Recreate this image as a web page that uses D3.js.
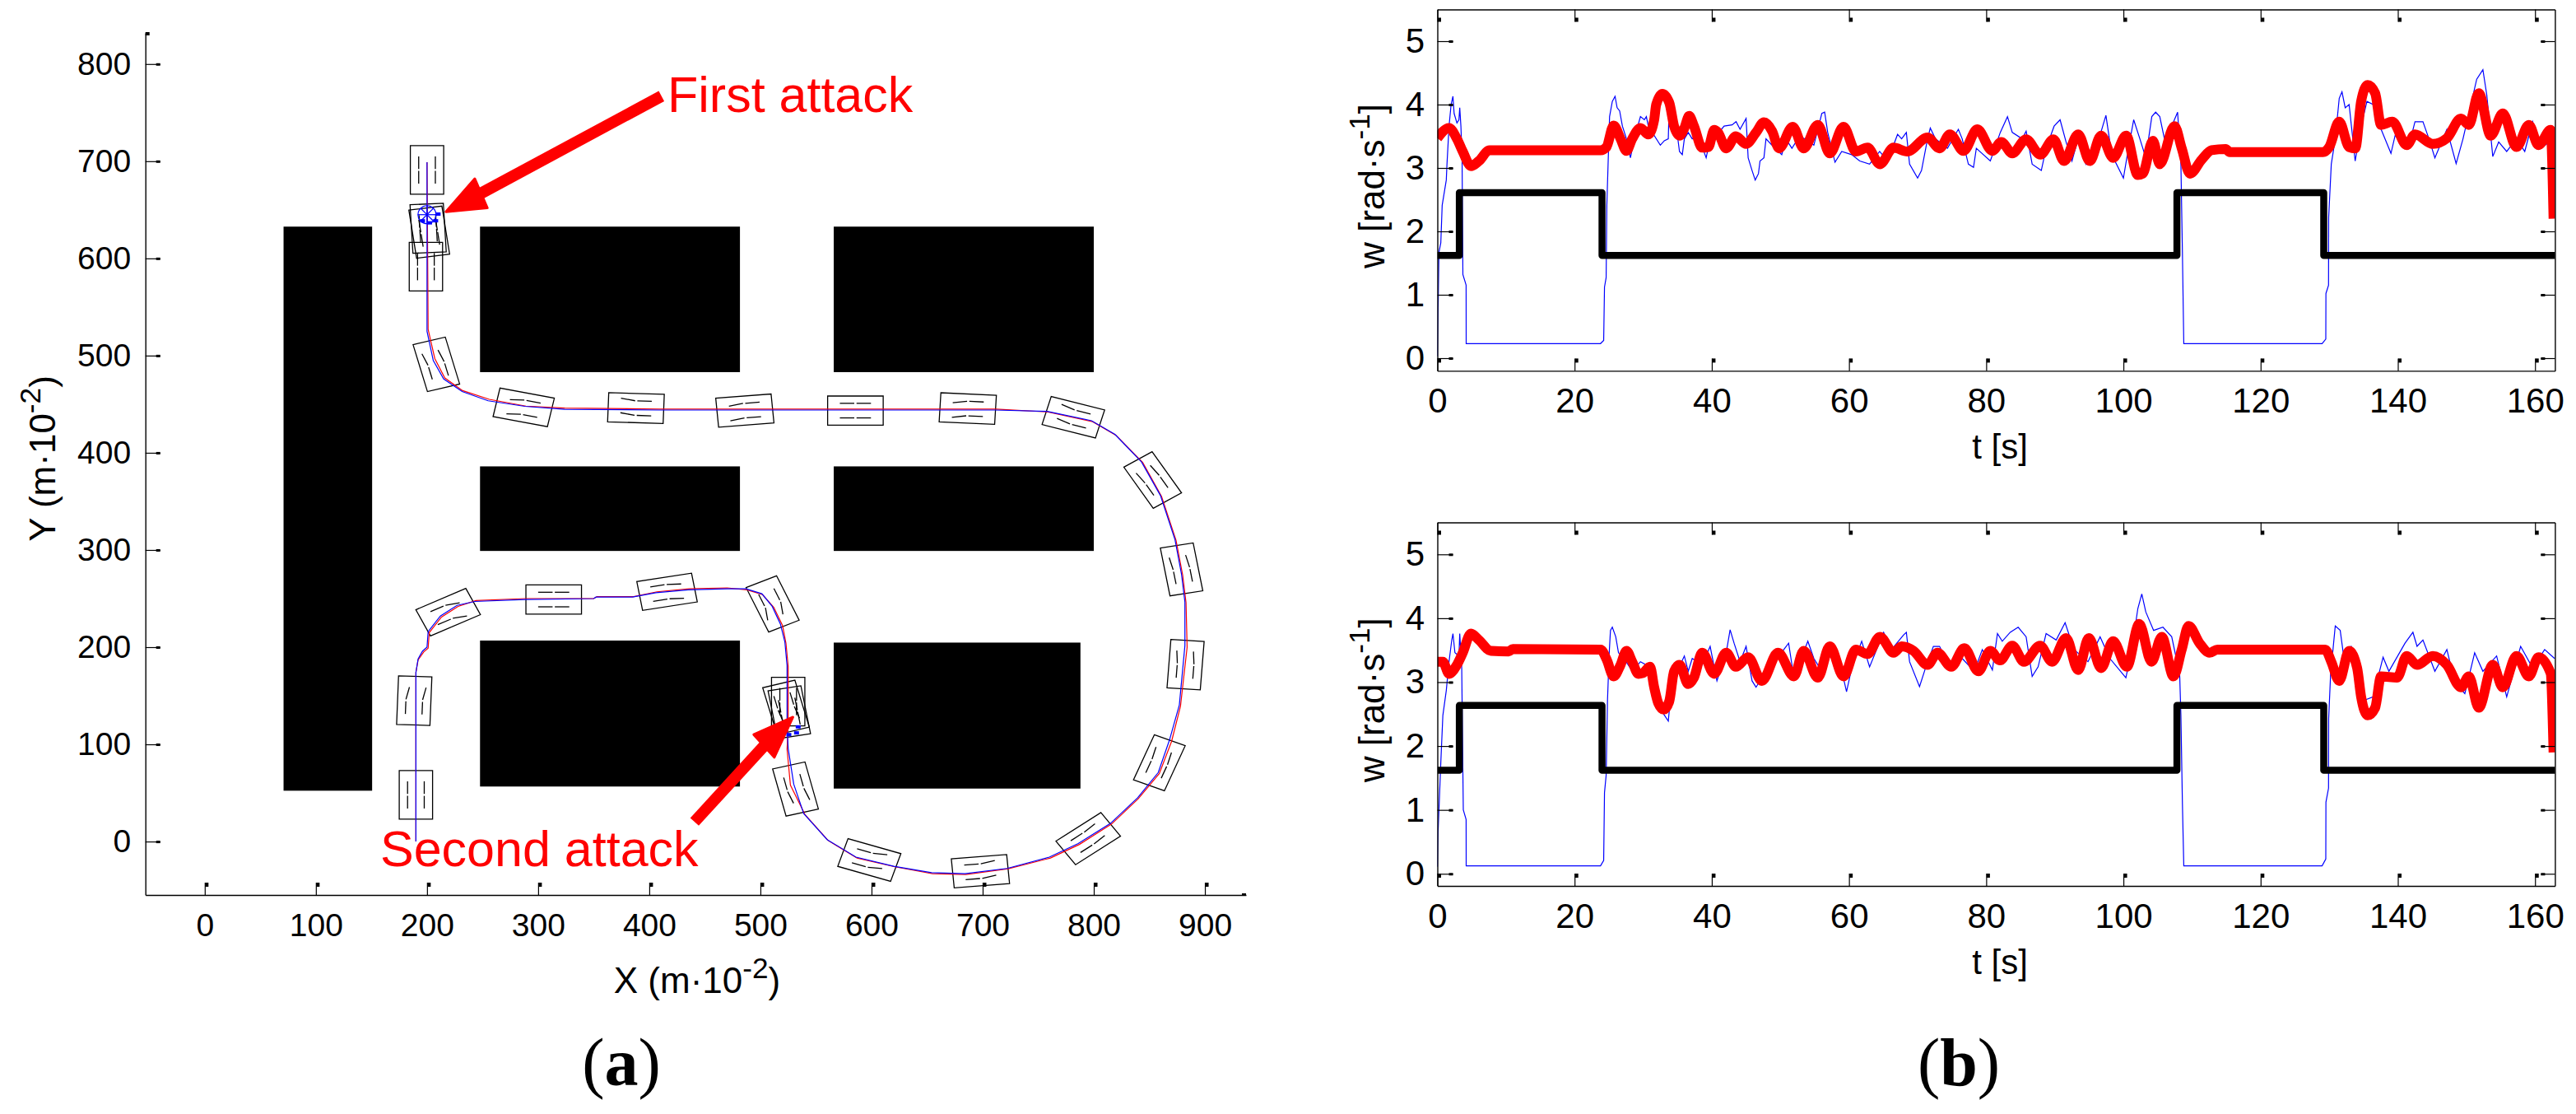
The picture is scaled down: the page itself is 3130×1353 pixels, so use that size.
<!DOCTYPE html>
<html>
<head>
<meta charset="utf-8">
<script src="https://cdn.jsdelivr.net/npm/d3@7"></script>
<style>
  html, body { margin: 0; background: #fff; }
  svg { display: block; }
  text { font-family: "Liberation Sans", Arial, sans-serif; fill: #000; }
</style>
</head>
<body>
<svg id="chart" width="3130" height="1353"></svg>
<script>
// ---- panel (a) data ----
var mapTicksX = [0, 100, 200, 300, 400, 500, 600, 700, 800, 900];
var mapTicksY = [0, 100, 200, 300, 400, 500, 600, 700, 800];

// obstacles: [x0, x1, y0, y1]
var obstacles = [
  [70.9, 150.6, 52.3, 632.7],
  [247.7, 481.6, 483, 632.7],
  [247.7, 481.6, 299, 386],
  [247.7, 481.6, 56.6, 206.8],
  [566, 800, 483, 632.7],
  [566, 800, 299, 386],
  [566, 788, 54.5, 204.7]
];

// path that was actually driven
var pathX = [190, 190, 192, 196, 200, 201, 212, 227, 243, 288, 350, 352, 385, 406, 435, 470, 487, 501.3, 510.6, 518, 522, 524, 524, 525, 530, 539, 560, 586, 620, 654, 684, 722, 760, 786, 815, 839.5, 858, 868, 877, 882, 882, 879, 873, 860, 843, 819, 798, 758, 711, 408.5, 323.7, 288, 255, 231.6, 215, 205.6, 200, 200];
var pathY = [0, 174, 188, 196, 200, 216, 232, 243, 247, 249, 250, 251.5, 251.5, 256, 259, 260, 260, 255, 242, 223.8, 205.5, 181, 120, 95.7, 59, 28.8, 2, -16, -25.4, -32, -33, -27.7, -16, -2, 18.6, 45, 71, 104, 140.6, 201.6, 246.5, 274.6, 311, 356, 390.5, 419, 433, 442.6, 444, 444, 444.8, 447.8, 453.5, 463, 476, 495, 525, 699];

// reference path, a little off the driven one in places
var refX = [190, 190, 192, 197, 201, 202, 213, 228, 244, 289, 350, 353, 386, 407, 436, 470, 488, 502, 512, 520, 523, 525, 525, 524, 527, 540, 561, 587, 621, 655, 685, 723, 761, 787, 816, 840, 859, 870, 878, 884, 883, 880, 874, 861, 844, 820, 799, 759, 712, 409, 324, 289, 256, 232, 216, 207, 201, 200];
var refY = [0, 174, 187, 195, 199, 215, 231, 242, 248, 250, 250, 252, 252, 257, 260, 261, 259, 254, 241, 222, 204, 180, 120, 95, 58, 28, 1, -17, -26, -33, -34, -28, -17, -3, 18, 44, 70, 103, 139, 200, 246, 274, 310, 355, 390, 418, 432, 442, 445, 445, 446, 448, 455, 464, 477, 497, 527, 699];

// vehicle poses: centre, heading in degrees, front wheel steering in degrees
var carX = [190, 188.5, 219, 314, 416, 511, 525, 523, 526, 531.6, 598, 698, 795, 859, 882.6, 879, 853, 781.6, 686.6, 585.5, 486, 388, 287, 208.4, 199, 201, 202, 200];
var carY = [48, 145, 236, 249, 257, 244.5, 144, 138, 133, 54, -19, -30.5, 3, 81, 182, 280, 372, 436.6, 445.5, 443.4, 443.4, 446, 446.7, 491, 591.5, 631, 627, 691];
var carHeading = [90, 88, 26, 0, 10, -66, -90, -75, -80, -76, -18, 5, 36, 68, 86, 100, 122, 164, 177, 180, 185, 178, 168, 105, 90, 93, 98, 90];
var carSteer = [0, -12, -15, 0, -8, -15, 0, 6, 0, 10, 12, 10, 6, 6, 6, 6, 6, -10, 10, 0, 8, -10, 10, 10, 0, 0, 0, 0];

var attackX = [200], attackY = [645];
var hitX = [196, 202.3, 207.8, 210, 525.6, 532.5, 534], hitY = [638.7, 636.6, 638.7, 645.6, 110, 111.8, 118];

// arrows: tail, tip, two corners of the head
var arrows = [
  { tail: [411, 767], tip: [217, 648], a: [243, 682], b: [254.3, 652] },
  { tail: [440.7, 20.3], tip: [529.3, 128], a: [494, 110], b: [512.5, 86.6] }
];

// ---- panel (b) data ----
var speedTicksX = [0, 20, 40, 60, 80, 100, 120, 140, 160];
var speedTicksY = [0, 1, 2, 3, 4, 5];

var refT = [0, 3.2, 3.2, 24, 24, 107.8, 107.8, 129.2, 129.2, 163];
var refTop = [1.62, 1.62, 2.61, 2.61, 1.62, 1.62, 2.61, 2.61, 1.62, 1.62];
var refBottom = [1.62, 1.62, 2.635, 2.635, 1.62, 1.62, 2.635, 2.635, 1.62, 1.62];

var redTopT = [0, 1.7, 2.85, 3.7, 4.9, 6.05, 7.6, 23.8, 24.65, 25.7, 26.7, 27.56, 28.4, 29.6, 30.75, 31.6, 31.9, 32.8, 33.8, 34.5, 35.3, 36, 36.7, 37.4, 38.6, 39.5, 40.35, 40.9, 42.1, 43.5, 45, 46.45, 47.6, 48.8, 49.8, 51.8, 53.4, 55.45, 57.2, 59.2, 61, 62.7, 64.5, 66.5, 68.5, 71.45, 73.2, 74.7, 76.7, 78.7, 80.9, 82.2, 83.8, 85.8, 87.9, 89.8, 91.35, 93.4, 95.1, 96.75, 98.5, 100.4, 102.1, 102.8, 104.3, 105.3, 107.45, 108.5, 109.7, 111.4, 112.85, 114.9, 115.5, 129.1, 130, 131.45, 132.9, 133.8, 134.65, 135.6, 136.7, 137.55, 139.2, 141.3, 142.5, 145.1, 147.15, 149.2, 150.35, 151.8, 153.55, 155.3, 157.3, 159.1, 160.5, 162.27, 162.7];
var redTopV = [3.47, 3.63, 3.46, 3.26, 3.03, 3.11, 3.28, 3.28, 3.33, 3.67, 3.46, 3.27, 3.46, 3.63, 3.53, 3.76, 4.0, 4.17, 4.03, 3.66, 3.51, 3.63, 3.82, 3.66, 3.32, 3.33, 3.6, 3.56, 3.31, 3.5, 3.38, 3.56, 3.72, 3.58, 3.31, 3.65, 3.31, 3.68, 3.23, 3.65, 3.26, 3.32, 3.06, 3.32, 3.26, 3.48, 3.31, 3.53, 3.27, 3.61, 3.27, 3.41, 3.23, 3.45, 3.21, 3.45, 3.11, 3.53, 3.11, 3.51, 3.16, 3.51, 2.89, 2.91, 3.43, 3.06, 3.66, 3.31, 2.91, 3.13, 3.28, 3.3, 3.25, 3.25, 3.33, 3.73, 3.33, 3.31, 4.05, 4.31, 4.18, 3.68, 3.73, 3.36, 3.53, 3.38, 3.47, 3.78, 3.68, 4.18, 3.51, 3.86, 3.33, 3.68, 3.36, 3.6, 2.2];

var blueTopT = [0, 0.12, 0.23, 0.5, 0.7, 1.3, 1.4, 1.7, 2, 2.27, 2.44, 2.85, 3.14, 3.26, 3.43, 3.6, 3.72, 4.19, 4.2, 23.78, 24.24, 24.36, 24.6, 24.7, 24.94, 25.1, 25.5, 25.9, 26.2, 26.57, 26.97, 27.56, 28.14, 28.7, 29.6, 30.17, 30.46, 30.75, 31.62, 32.5, 33.08, 33.66, 33.78, 34.53, 35.29, 35.7, 36, 36.57, 37.15, 38, 39.18, 39.76, 40.63, 41.8, 42.96, 43.54, 44.12, 45, 45.3, 45.87, 46.33, 46.8, 47.03, 47.6, 47.9, 48.77, 50.2, 50.8, 51.68, 52.84, 54.88, 56.04, 56.45, 56.9, 57.96, 58.94, 60.4, 61.56, 63, 64.47, 65.63, 67.08, 67.67, 68.36, 68.83, 70, 70.57, 71.45, 71.85, 72.6, 74.35, 75.94, 76.5, 77.4, 78.15, 78.56, 80.6, 82.05, 83.1, 83.8, 85.24, 85.82, 86.7, 88.03, 88.73, 89.9, 90.77, 91.64, 92.5, 93.4, 94.54, 96.3, 97.45, 98.3, 100, 100.65, 101.5, 102.4, 103.26, 104.14, 104.7, 105.3, 106.17, 107.04, 107.9, 108.38, 108.6, 108.8, 128.96, 129.5, 129.52, 129.9, 129.92, 130.3, 130.88, 131.46, 131.86, 132.33, 132.9, 133.78, 134.65, 135.5, 136.4, 137.56, 139, 139.6, 141.63, 142.5, 143.66, 144.54, 145.4, 147.15, 148.5, 149.5, 151.5, 152.4, 152.97, 153.84, 154.7, 155.87, 157.3, 158.5, 159.65, 160.8, 162.85];
var blueTopV = [0.03, 0.85, 1.67, 1.82, 2.41, 2.81, 3.06, 3.66, 4.0, 4.13, 3.86, 3.71, 3.76, 3.95, 3.66, 3.16, 1.32, 1.15, 0.23, 0.23, 0.28, 1.12, 1.27, 2.41, 3.26, 3.81, 4.05, 4.13, 3.95, 3.9, 3.66, 3.46, 3.16, 3.46, 3.81, 3.76, 3.81, 3.66, 3.51, 3.36, 3.43, 3.46, 3.95, 3.9, 3.26, 3.21, 3.46, 3.56, 3.46, 3.51, 3.16, 3.46, 3.51, 3.66, 3.68, 3.73, 3.61, 3.78, 3.16, 2.96, 2.81, 2.91, 3.11, 3.16, 3.46, 3.36, 3.21, 3.46, 3.31, 3.51, 3.36, 3.86, 3.88, 3.56, 3.09, 3.26, 3.21, 3.11, 3.06, 3.26, 3.11, 3.53, 3.46, 3.56, 3.06, 2.84, 2.96, 3.46, 3.63, 3.46, 3.31, 3.61, 3.46, 3.06, 3.01, 3.31, 3.11, 3.56, 3.81, 3.56, 3.46, 3.58, 3.06, 2.96, 3.31, 3.66, 3.76, 3.41, 3.11, 3.46, 3.06, 3.41, 3.83, 3.21, 2.84, 3.26, 3.76, 3.46, 3.16, 3.81, 3.88, 3.81, 3.36, 3.66, 3.88, 3.06, 1.67, 0.23, 0.23, 0.3, 1.02, 1.15, 2.22, 3.06, 3.46, 4.1, 4.2, 3.95, 4.0, 3.11, 3.66, 4.05, 4.0, 3.61, 3.23, 3.51, 3.36, 3.73, 3.73, 3.46, 3.16, 3.61, 3.07, 3.46, 4.4, 4.55, 4.15, 3.18, 3.41, 3.26, 3.46, 3.26, 3.73, 3.31, 3.46];

var redBottomT = [0, 0.8, 1.7, 2.85, 3.7, 4.9, 6.05, 7.8, 10.4, 11, 23.8, 24.65, 25.7, 26.7, 27.56, 28.4, 29.3, 29.9, 31, 31.6, 32.2, 33, 33.8, 34.5, 35.3, 36.57, 37.4, 38.6, 40.35, 42.1, 43.5, 45.3, 47.3, 49.65, 51.97, 53.4, 55.45, 57.2, 59.2, 61, 62.7, 64.5, 66.5, 67.67, 69.4, 71.45, 72.9, 74.9, 76.8, 78.85, 80.6, 82, 83.8, 85.5, 87.86, 89.6, 91.64, 93.4, 94.95, 96.75, 98.5, 100.5, 102.3, 104.1, 105.6, 107.3, 108.5, 109.5, 111.1, 112.56, 113.7, 129.4, 130.3, 131.45, 132.9, 134.07, 134.65, 135.6, 136.7, 137.55, 139.9, 141.3, 142.8, 145.1, 147.15, 149.2, 150.35, 151.8, 153.84, 155.3, 157.3, 159.1, 160.5, 162.27, 162.7];
var redBottomV = [3.32, 3.32, 3.13, 3.27, 3.46, 3.76, 3.66, 3.49, 3.48, 3.52, 3.51, 3.36, 3.09, 3.27, 3.49, 3.32, 3.13, 3.14, 3.24, 2.92, 2.67, 2.57, 2.7, 3.17, 3.27, 2.97, 3.07, 3.46, 3.13, 3.46, 3.24, 3.39, 3.02, 3.46, 3.09, 3.49, 3.07, 3.56, 3.09, 3.51, 3.44, 3.71, 3.46, 3.56, 3.49, 3.27, 3.46, 3.24, 3.53, 3.17, 3.49, 3.34, 3.57, 3.32, 3.57, 3.32, 3.69, 3.19, 3.69, 3.22, 3.64, 3.24, 3.91, 3.32, 3.71, 3.09, 3.51, 3.88, 3.61, 3.46, 3.51, 3.51, 3.32, 3.02, 3.49, 3.22, 2.77, 2.48, 2.6, 3.09, 3.07, 3.41, 3.27, 3.41, 3.27, 2.92, 3.09, 2.6, 3.27, 2.92, 3.41, 3.09, 3.39, 3.14, 1.9];

var blueBottomT = [0, 0.12, 0.5, 0.8, 1.3, 1.7, 2.1, 2.27, 2.56, 3.14, 3.26, 3.55, 3.78, 4.19, 4.2, 23.78, 24.24, 24.36, 24.6, 24.8, 25.05, 25.23, 25.5, 26, 26.4, 27.27, 28.43, 29.6, 31.33, 32.8, 33.66, 33.95, 35.4, 36, 36.57, 37.15, 38.6, 39.76, 40.75, 42.1, 42.67, 43.25, 44.12, 45, 45.87, 46.45, 47.3, 48.77, 50.5, 51.2, 51.97, 54, 54.88, 56.04, 57.5, 58.65, 59.64, 60.4, 61.85, 63, 65.05, 66.2, 67.96, 68.36, 68.83, 70.28, 71.15, 72.3, 73.2, 74.35, 76.5, 78.27, 79.43, 80.9, 81.64, 82.34, 83.5, 84.66, 85.82, 86.7, 87.57, 88.73, 90.2, 91.5, 92.8, 94.84, 96.6, 98.03, 100.36, 101.23, 102.1, 102.68, 103.26, 104.4, 105.76, 107.04, 108.2, 108.38, 108.6, 108.8, 128.96, 129.5, 129.52, 129.9, 129.92, 130.2, 130.88, 131.6, 132.04, 133.2, 135.2, 136.4, 137.85, 138.7, 141.05, 142.2, 142.8, 143.66, 145.4, 147.15, 148.3, 149.77, 151.2, 152.4, 154.4, 155.87, 157.9, 159.65, 161.4, 162.85];
var blueBottomV = [0.11, 0.7, 1.74, 2.48, 2.87, 3.32, 3.66, 3.76, 3.46, 3.41, 3.76, 3.22, 1.0, 0.85, 0.125, 0.125, 0.21, 1.27, 1.54, 2.72, 3.46, 3.81, 3.86, 3.71, 3.46, 3.36, 3.17, 3.32, 3.22, 2.53, 2.39, 2.72, 3.27, 3.41, 3.17, 3.37, 3.27, 3.56, 3.02, 3.46, 3.82, 3.61, 3.32, 3.56, 3.02, 2.92, 3.07, 3.27, 3.51, 3.61, 3.07, 3.64, 3.37, 3.17, 3.46, 3.32, 2.85, 3.22, 3.64, 3.24, 3.78, 3.51, 3.74, 3.78, 3.32, 2.93, 3.22, 3.56, 3.56, 3.32, 3.37, 3.17, 3.51, 3.19, 3.76, 3.64, 3.78, 3.86, 3.71, 3.09, 3.24, 3.76, 3.66, 3.93, 3.51, 3.32, 3.71, 3.37, 3.07, 3.51, 4.15, 4.38, 4.1, 3.81, 3.86, 3.71, 3.12, 2.48, 1.1, 0.125, 0.125, 0.23, 1.12, 1.34, 2.43, 3.12, 3.88, 3.81, 3.46, 3.56, 2.72, 2.77, 3.39, 3.17, 3.61, 3.78, 3.56, 3.66, 3.17, 3.51, 3.0, 2.82, 3.46, 3.17, 3.41, 2.77, 3.56, 3.22, 3.51, 3.37];

var svg = d3.select("#chart");

// axis line + thin tick + small thick block at the tip, like the old matlab export
function styleAxis(g, fontSize, tickDx, tickDy) {
  g.select(".domain").attr("stroke", "#000").attr("stroke-width", 1.4);
  g.selectAll(".tick line").attr("stroke", "#000").attr("stroke-width", 1.2);
  g.selectAll(".tick text").attr("font-size", fontSize).attr("fill", "#000");
  g.selectAll(".tick").append("rect")
    .attr("x", tickDx < 0 ? tickDx : (tickDx > 0 ? tickDx - 5 : 0))
    .attr("y", tickDy < 0 ? tickDy : (tickDy > 0 ? tickDy - 5 : -1.5))
    .attr("width", tickDx != 0 ? 5 : 4)
    .attr("height", tickDy != 0 ? 5 : 3)
    .attr("fill", "#000");
}

function drawBottomAxis(x, yPos, ticks, fontSize, labelY, show) {
  var g = svg.append("g").attr("transform", `translate(0,${yPos})`)
    .call(d3.axisBottom(x).tickValues(ticks).tickSizeInner(-15).tickSizeOuter(0).tickFormat(show ? d3.format("d") : ""));
  styleAxis(g, fontSize, 0, -15);
  g.selectAll(".tick text").attr("y", labelY).attr("dy", 0);
  return g;
}

function drawLeftAxis(y, xPos, ticks, fontSize, labelX, tickLen) {
  var g = svg.append("g").attr("transform", `translate(${xPos},0)`)
    .call(d3.axisLeft(y).tickValues(ticks).tickSizeInner(-tickLen).tickSizeOuter(0).tickFormat(d3.format("d")));
  styleAxis(g, fontSize, tickLen, 0);
  g.selectAll(".tick text").attr("x", labelX);
  return g;
}

// text with a superscript part, optional rotation
function supLabel(px, py, before, sup, after, fontSize, rotate) {
  var t = svg.append("text")
    .attr("transform", `translate(${px},${py})` + (rotate ? " rotate(-90)" : ""))
    .attr("text-anchor", "middle")
    .attr("font-size", fontSize);
  t.append("tspan").text(before);
  t.append("tspan").attr("dy", -fontSize * 0.42).attr("font-size", fontSize * 0.8).text(sup);
  t.append("tspan").attr("dy", fontSize * 0.42).text(after);
}

function panelCaption(px, letter) {
  var t = svg.append("text").attr("x", px).attr("y", 1318)
    .attr("text-anchor", "middle")
    .style("font-family", "'Liberation Serif', serif")
    .attr("font-size", 82);
  t.append("tspan").text("(");
  t.append("tspan").attr("font-weight", "bold").text(letter);
  t.append("tspan").text(")");
}

// ---- panel (a) ----
function drawMap() {
  var x = d3.scaleLinear([-53.4, 937], [176.7, 1514]);
  var y = d3.scaleLinear([-55, 832], [1087, 40]);

  svg.append("g").selectAll("rect").data(obstacles).join("rect")
    .attr("x", d => x(d[0]))
    .attr("y", d => y(d[3]))
    .attr("width", d => x(d[1]) - x(d[0]))
    .attr("height", d => y(d[2]) - y(d[3]))
    .attr("fill", "#000");

  drawBottomAxis(x, y(-55), mapTicksX, 39, 49.5, true);
  drawLeftAxis(y, x(-53.4), mapTicksY, 39, -17.5, 18);
  svg.append("rect").attr("x", 176.7).attr("y", 39).attr("width", 5).attr("height", 4).attr("fill", "#000");
  svg.append("rect").attr("x", 1509).attr("y", 1085).attr("width", 5).attr("height", 3).attr("fill", "#000");

  // body frame -> screen, through the data scales
  function toScreen(i, along, across) {
    var a = carHeading[i] * Math.PI / 180;
    return [x(carX[i] + along * Math.cos(a) - across * Math.sin(a)),
            y(carY[i] + along * Math.sin(a) + across * Math.cos(a))];
  }

  var carLine = d3.line();
  var cars = svg.append("g").attr("fill", "none").attr("stroke", "#000").attr("stroke-width", 1.3);
  carX.forEach(function (cx, i) {
    var L = 25, W = 15;
    cars.append("path")
      .attr("d", carLine([toScreen(i, L, W), toScreen(i, L, -W), toScreen(i, -L, -W), toScreen(i, -L, W)]) + "Z");
    [-1, 1].forEach(function (side) {
      cars.append("path").attr("d", carLine([toScreen(i, -14, side * 7.5), toScreen(i, -1, side * 7.5)]));
      var s = carSteer[i] * Math.PI / 180;
      cars.append("path").attr("d", carLine([
        toScreen(i, 1, side * 7.5),
        toScreen(i, 1 + 13 * Math.cos(s), side * 7.5 + 13 * Math.sin(s))
      ]));
    });
  });

  var pathLine = d3.line().x(d => x(d[0])).y(d => y(d[1]));
  svg.append("path").attr("d", pathLine(d3.zip(refX, refY)))
    .attr("fill", "none").attr("stroke", "#ff0000").attr("stroke-width", 1.2);
  svg.append("path").attr("d", pathLine(d3.zip(pathX, pathY)))
    .attr("fill", "none").attr("stroke", "#0000ff").attr("stroke-width", 1.2);

  // attack marker: circle with spokes, and the small squares
  attackX.forEach(function (ax, i) {
    var m = svg.append("g").attr("transform", `translate(${x(ax)},${y(attackY[i])})`)
      .attr("fill", "none").attr("stroke", "#0000ff").attr("stroke-width", 1.2);
    m.append("circle").attr("r", 11);
    [0, 45, 90, 135].forEach(function (a) {
      m.append("line").attr("x1", -11).attr("x2", 11).attr("transform", `rotate(${a})`);
    });
  });
  svg.append("g").selectAll("rect").data(d3.zip(hitX, hitY)).join("rect")
    .attr("x", d => x(d[0]) - 3).attr("y", d => y(d[1]) - 2)
    .attr("width", 6).attr("height", 4).attr("fill", "#0000ff");

  // red arrows
  arrows.forEach(function (ar) {
    var mid = [(ar.a[0] + ar.b[0]) / 2, (ar.a[1] + ar.b[1]) / 2];
    svg.append("line")
      .attr("x1", x(ar.tail[0])).attr("y1", y(ar.tail[1]))
      .attr("x2", x(mid[0])).attr("y2", y(mid[1]))
      .attr("stroke", "#ff0000").attr("stroke-width", 14);
    svg.append("polygon")
      .attr("points", [ar.tip, ar.a, ar.b].map(p => [x(p[0]), y(p[1])].join(",")).join(" "))
      .attr("fill", "#ff0000").attr("stroke", "#ff0000").attr("stroke-width", 3).attr("stroke-linejoin", "round");
  });

  svg.append("text").attr("x", 811).attr("y", 136).attr("font-size", 61).style("fill", "#ff0000").text("First attack");
  svg.append("text").attr("x", 462).attr("y", 1052).attr("font-size", 61).style("fill", "#ff0000").text("Second attack");

  supLabel(847, 1206, "X (m·10", "-2", ")", 44, false);
  supLabel(67, 557, "Y (m·10", "-2", ")", 44, true);
  panelCaption(755, "a");
}

// ---- panel (b), one speed plot ----
function drawSpeed(top, bottom, bottomV, refV, redT, redV, blueT, blueV, clipId) {
  var x = d3.scaleLinear([0, 162.9], [1746.5, 3104.4]);
  var y = d3.scaleLinear([bottomV, 5.5], [bottom, top]);

  svg.append("clipPath").attr("id", clipId).append("rect")
    .attr("x", x(0)).attr("y", top)
    .attr("width", x(162.9) - x(0)).attr("height", bottom - top);

  var plot = svg.append("g").attr("clip-path", `url(#${clipId})`).attr("fill", "none");

  plot.append("path").attr("d", d3.line().x(d => x(d[0])).y(d => y(d[1]))(d3.zip(blueT, blueV)))
    .attr("stroke", "#0000ff").attr("stroke-width", 1.2);
  plot.append("path").attr("d", d3.line().x(d => x(d[0])).y(d => y(d[1]))(d3.zip(refT, refV)))
    .attr("stroke", "#000").attr("stroke-width", 8.5).attr("stroke-linejoin", "round");
  plot.append("path").attr("d", d3.line().curve(d3.curveMonotoneX).x(d => x(d[0])).y(d => y(d[1]))(d3.zip(redT, redV)))
    .attr("stroke", "#ff0000").attr("stroke-width", 12).attr("stroke-linejoin", "round");

  // box: bottom and left carry the labels, top and right only ticks
  drawBottomAxis(x, bottom, speedTicksX, 42, 51, true);
  drawLeftAxis(y, x(0), speedTicksY, 42, -15.5, 19);
  var topAxis = svg.append("g").attr("transform", `translate(0,${top})`)
    .call(d3.axisTop(x).tickValues(speedTicksX).tickSizeInner(-15).tickSizeOuter(0).tickFormat(""));
  styleAxis(topAxis, 42, 0, 15);
  var rightAxis = svg.append("g").attr("transform", `translate(${x(162.9)},0)`)
    .call(d3.axisRight(y).tickValues(speedTicksY).tickSizeInner(-17).tickSizeOuter(0).tickFormat(""));
  styleAxis(rightAxis, 42, -17, 0);

  svg.append("text").attr("x", 2430).attr("y", bottom + 107).attr("text-anchor", "middle").attr("font-size", 42).text("t [s]");
  supLabel(1682, (top + bottom) / 2 - 5, "w [rad·s", "-1", "]", 44, true);
}

drawMap();
drawSpeed(11.5, 450.4, -0.2, refTop, redTopT, redTopV, blueTopT, blueTopV, "clipTop");
drawSpeed(634.5, 1076, -0.19, refBottom, redBottomT, redBottomV, blueBottomT, blueBottomV, "clipBottom");
panelCaption(2380, "b");
</script>
</body>
</html>
